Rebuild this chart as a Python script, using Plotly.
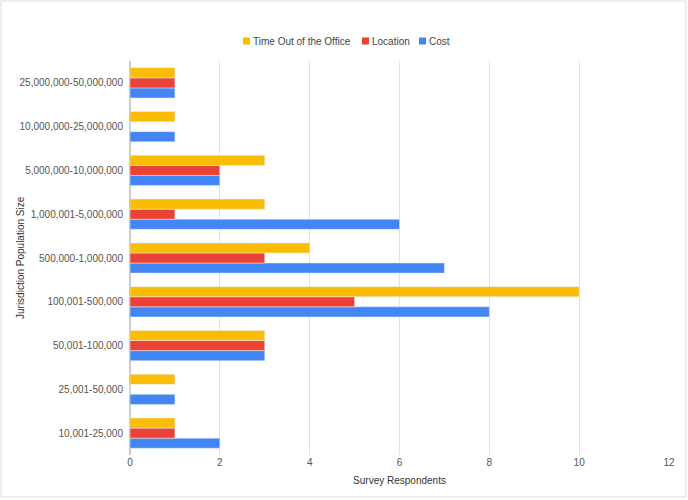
import plotly.graph_objects as go

categories = ["10,001-25,000", "25,001-50,000", "50,001-100,000", "100,001-500,000",
              "500,000-1,000,000", "1,000,001-5,000,000", "5,000,000-10,000,000",
              "10,000,000-25,000,000", "25,000,000-50,000,000"]
time_out = [1, 1, 3, 10, 4, 3, 3, 1, 1]
location = [1, 0, 3, 5, 3, 1, 2, 0, 1]
cost = [2, 1, 3, 8, 7, 6, 2, 1, 1]
x_ticks = [0, 2, 4, 6, 8, 10, 12]

series_names = ["Time Out of the Office", "Location", "Cost"]
series_colors = ["#FBBC04", "#EA4335", "#4285F4"]

fig = go.Figure()
fig.add_trace(go.Bar(y=categories, x=cost, name="Cost", orientation="h",
                     marker_color=series_colors[2], showlegend=False))
fig.add_trace(go.Bar(y=categories, x=location, name="Location", orientation="h",
                     marker_color=series_colors[1], showlegend=False))
fig.add_trace(go.Bar(y=categories, x=time_out, name="Time Out of the Office", orientation="h",
                     marker_color=series_colors[0], showlegend=False))

W, H = 688, 500
L, R, T, B = 130, 19, 61, 45
pw, ph = W - L - R, H - T - B

def px_x(p):
    return (p - L) / pw

def px_y(p):
    return (H - B - p) / ph

shapes = [dict(type="rect", xref="paper", yref="paper",
               x0=px_x(1), x1=px_x(686), y0=px_y(497), y1=px_y(1),
               line=dict(color="#dddddd", width=1), layer="below")]
annotations = []
# custom legend: square + label
legend_x = [243, 362, 419]
for name, color, lx in zip(series_names, series_colors, legend_x):
    shapes.append(dict(type="rect", xref="paper", yref="paper",
                       x0=px_x(lx), x1=px_x(lx + 7), y0=px_y(44.5), y1=px_y(37.5),
                       fillcolor=color, line=dict(width=0)))
    annotations.append(dict(text=name, xref="paper", yref="paper", x=px_x(lx + 7.5), y=px_y(41),
                            xanchor="left", yanchor="middle", showarrow=False,
                            font=dict(size=10, color="#444444")))
# y axis title
annotations.append(dict(text="Jurisdiction Population Size", xref="paper", yref="paper",
                        x=px_x(20), y=0.5, textangle=-90, xanchor="center", yanchor="middle",
                        showarrow=False, font=dict(size=10, color="#333333")))

fig.update_layout(
    width=W, height=H,
    margin=dict(l=L, r=R, t=T, b=B),
    paper_bgcolor="white", plot_bgcolor="white",
    font=dict(family="Liberation Sans, Arial, sans-serif", size=10, color="#555555"),
    barmode="group", bargap=0.31, bargroupgap=0,
    showlegend=False,
    xaxis=dict(range=[0, 12], tickvals=x_ticks, showgrid=True, gridcolor="#e2e2e2", gridwidth=1,
               zeroline=True, zerolinecolor="#cccccc", showline=False, ticks="",
               title=dict(text="Survey Respondents", font=dict(size=10, color="#333333"), standoff=9)),
    yaxis=dict(showgrid=False, ticks="", ticklen=0, automargin=False, ticklabelstandoff=6),
    shapes=shapes,
    annotations=annotations,
)

fig.write_html("out.html", config={"displayModeBar": False})
with open("out.html", "r", encoding="utf-8") as f:
    html = f.read()
html = html.replace("<body>", "<body style=\"margin:0;padding:0;\">", 1)
with open("out.html", "w", encoding="utf-8") as f:
    f.write(html)
